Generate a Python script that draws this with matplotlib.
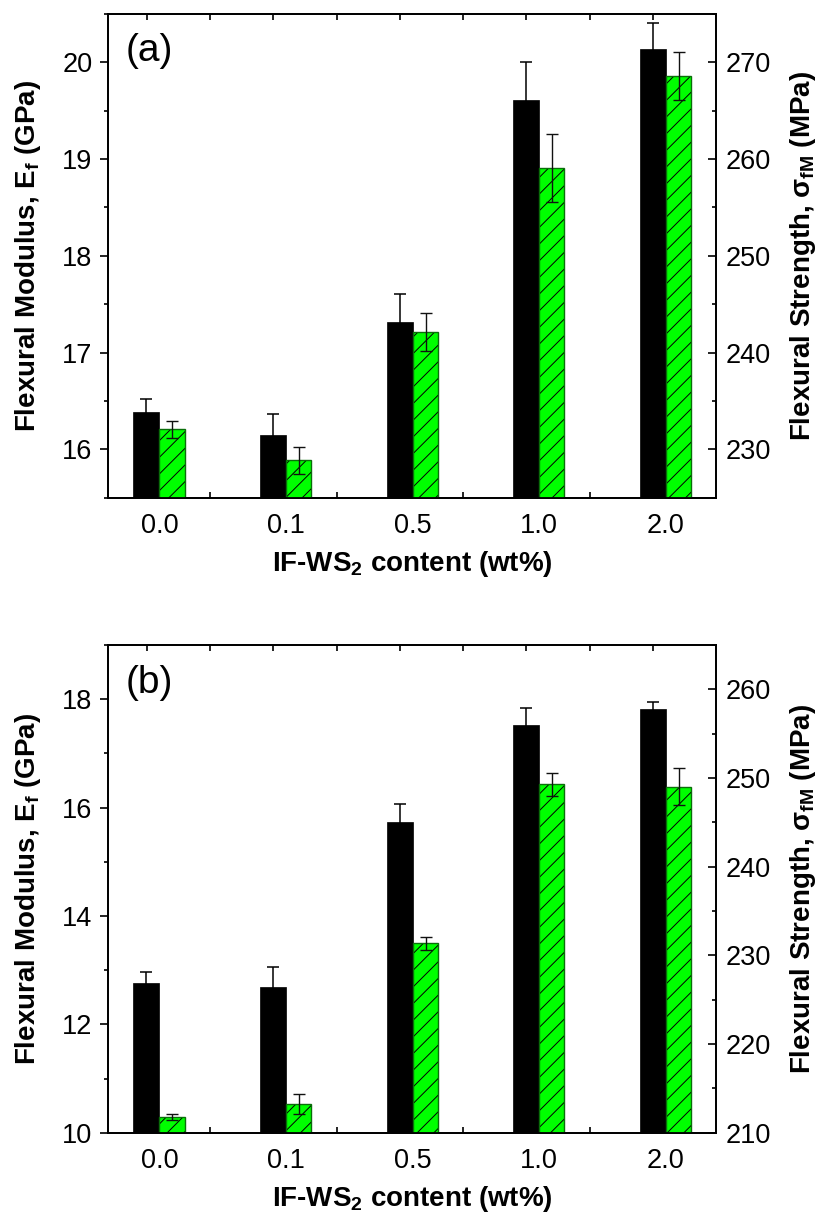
import numpy as np
import matplotlib
matplotlib.use("Agg")
import matplotlib.pyplot as plt
from matplotlib.ticker import MultipleLocator, FixedLocator

plt.rcParams['font.family'] = ['Liberation Sans', 'DejaVu Sans']
plt.rcParams['mathtext.fontset'] = 'custom'
plt.rcParams['mathtext.rm'] = 'Liberation Sans:bold'
plt.rcParams['mathtext.it'] = 'Liberation Sans:bold'
plt.rcParams['mathtext.bf'] = 'Liberation Sans:bold'
plt.rcParams['hatch.linewidth'] = 0.7

categories = ['0.0', '0.1', '0.5', '1.0', '2.0']

# Panel (a)
a_modulus = [16.39, 16.15, 17.32, 19.61, 20.14]
a_modulus_err = [0.13, 0.22, 0.29, 0.39, 0.27]
a_strength = [232.07, 228.86, 242.1, 259.06, 268.6]
a_strength_err = [0.85, 1.4, 1.97, 3.5, 2.5]

# Panel (b)
b_modulus = [12.76, 12.69, 15.74, 17.53, 17.82]
b_modulus_err = [0.21, 0.36, 0.33, 0.30, 0.12]
b_strength = [211.8, 213.24, 231.38, 249.28, 249.02]
b_strength_err = [0.35, 1.1, 0.74, 1.3, 2.1]

W, H = 821, 1216
fig = plt.figure(figsize=(W / 100, H / 100), dpi=100)

panels = [
    dict(label='(a)', mod=a_modulus, mod_err=a_modulus_err, st=a_strength, st_err=a_strength_err,
         ylim=(15.5, 20.5), y2lim=(225, 275), ymaj=1, ymin=0.5, y2maj=10, y2min=5,
         rect=[107.7 / W, 1 - 497.7 / H, 608.3 / W, 483.7 / H]),
    dict(label='(b)', mod=b_modulus, mod_err=b_modulus_err, st=b_strength, st_err=b_strength_err,
         ylim=(10, 19), y2lim=(210, 265), ymaj=2, ymin=1, y2maj=10, y2min=5,
         rect=[107.7 / W, 1 - 1132.7 / H, 608.3 / W, 487.7 / H]),
]

x = np.arange(len(categories))
bw = 0.205
green = '#00FF00'
TICK_FS = 19.5
LAB_FS = 20

for p in panels:
    ax = fig.add_axes(p['rect'])
    ax2 = ax.twinx()
    ax.set_zorder(ax2.get_zorder() + 1)
    ax.patch.set_visible(False)

    ax2.set_ylim(*p['y2lim'])
    ax.set_ylim(*p['ylim'])

    # black bars (modulus, left axis)
    ax.bar(x - bw / 2, p['mod'], width=bw, color='black', edgecolor='black',
           linewidth=0.5, zorder=2)
    ax.errorbar(x - bw / 2, p['mod'], yerr=p['mod_err'], fmt='none', ecolor='black',
                elinewidth=1.1, capsize=4.5, capthick=1.1, zorder=3)

    # green hatched bars (strength, right-axis values mapped onto left axis)
    st = np.array(p['st'])
    ste = np.array(p['st_err'])
    y0, y1 = p['ylim']
    s0, s1 = p['y2lim']
    k = (y1 - y0) / (s1 - s0)
    conv = lambda v: y0 + (np.asarray(v) - s0) * k
    gx = x + bw / 2 - 0.0025
    ax.bar(gx, conv(st) - y0, width=0.2, bottom=y0, color=green,
           edgecolor='black', linewidth=0, hatch='//', zorder=2)
    ax.bar(gx, conv(st) - y0, width=0.2, bottom=y0, fill=False,
           edgecolor='#0a6e0a', linewidth=1.0, zorder=2.1)
    ax.errorbar(x + bw / 2, conv(st), yerr=ste * k, fmt='none',
                ecolor='#111111', elinewidth=1.0, capsize=4.5, capthick=1.0, zorder=3)

    ax.set_xlim(-0.408, 4.397)
    ax.set_xticks(x)
    ax.set_xticklabels(categories)
    ax.xaxis.set_minor_locator(FixedLocator(np.arange(-0.1, 4.5, 0.5)))
    ax.tick_params(axis='x', which='major', length=0, pad=11, labelsize=TICK_FS)
    ax.tick_params(axis='x', which='minor', direction='in', length=4, width=1.2,
                   top=True, bottom=True)

    ax.yaxis.set_major_locator(MultipleLocator(p['ymaj']))
    ax.yaxis.set_minor_locator(MultipleLocator(p['ymin']))
    ax.tick_params(axis='y', which='major', direction='out', length=6, width=1.2,
                   labelsize=TICK_FS, pad=5)
    ax.tick_params(axis='y', which='minor', direction='out', length=3, width=1.2)

    ax2.yaxis.set_major_locator(MultipleLocator(p['y2maj']))
    ax2.yaxis.set_minor_locator(MultipleLocator(p['y2min']))
    ax2.tick_params(axis='y', which='major', direction='in', length=6, width=1.2,
                    labelsize=TICK_FS, pad=7)
    ax2.tick_params(axis='y', which='minor', direction='in', length=3, width=1.2)

    for a in (ax, ax2):
        for s in a.spines.values():
            s.set_linewidth(1.3)

    ax.set_ylabel('Flexural Modulus, E$_\\mathrm{f}$ (GPa)', fontsize=LAB_FS, fontweight='bold',
                  labelpad=14)
    ax2.set_ylabel('Flexural Strength, σ$_\\mathrm{fM}$ (MPa)', fontsize=LAB_FS, fontweight='bold',
                   labelpad=12)
    ax.set_xlabel('IF-WS$_\\mathrm{2}$ content (wt%)', fontsize=LAB_FS, fontweight='bold',
                  labelpad=7)
    ax.text(0.03, 0.96, p['label'], transform=ax.transAxes, fontsize=28,
            va='top', ha='left')

fig.savefig('out.png', dpi=100)
